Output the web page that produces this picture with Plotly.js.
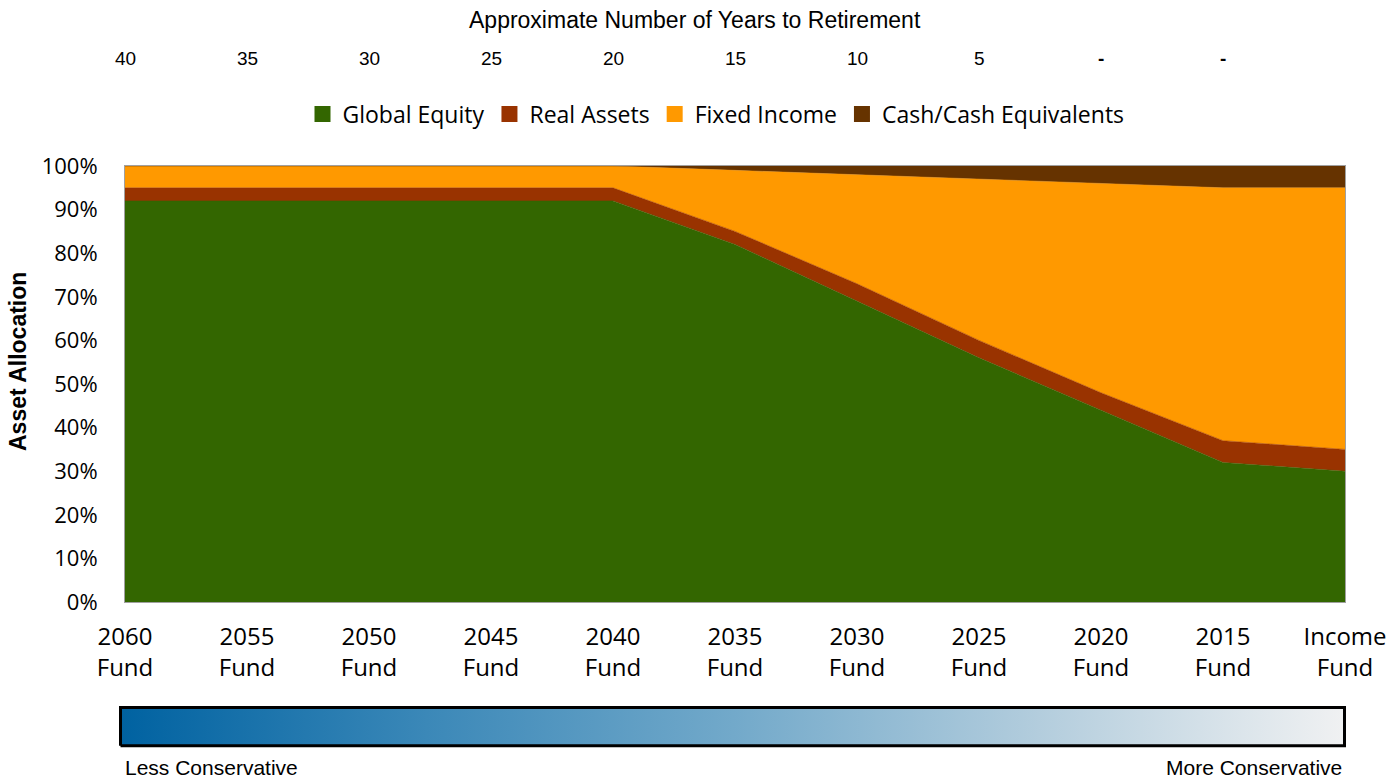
<!DOCTYPE html>
<html>
<head>
<meta charset="utf-8">
<script src="https://cdn.plot.ly/plotly-3.0.1.min.js"></script>
<style>html,body{margin:0;padding:0;background:#fff;}#chart{width:1396px;height:781px;}</style>
</head>
<body>
<div id="chart"></div>
<script>
// ---- data ----
var funds = ['2060<br>Fund','2055<br>Fund','2050<br>Fund','2045<br>Fund','2040<br>Fund','2035<br>Fund','2030<br>Fund','2025<br>Fund','2020<br>Fund','2015<br>Fund','Income<br>Fund'];
var globalEquity = [92,92,92,92,92,82,69,56,44,32,30];
var realAssets   = [3,3,3,3,3,3,4,4,4,5,5];
var fixedIncome  = [5,5,5,5,5,14,25,37,48,58,60];
var cashEquiv    = [0,0,0,0,0,1,2,3,4,5,5];
var yearsToRetirement = ['40','35','30','25','20','15','10','5','<b>-</b>','<b>-</b>'];
var seriesNames = ['Global Equity','Real Assets','Fixed Income','Cash/Cash Equivalents'];
var seriesColors = ['#336600','#993300','#FF9900','#663300'];
var gradientStops = [[0,'#0062a1'],[0.25,'#3b88b8'],[0.5,'#72a9ca'],[0.75,'#b3cddd'],[1,'#f0f1f2']];

var seriesValues = [globalEquity, realAssets, fixedIncome, cashEquiv];
var traces = [];
seriesValues.forEach(function(vals, i){
  traces.push({
    type:'scatter', mode:'lines', x:funds, y:vals, stackgroup:'alloc',
    name:seriesNames[i], showlegend:false, hoverinfo:'skip',
    line:{color:seriesColors[i], width:0.5}, fillcolor:seriesColors[i]
  });
});
// legend entries (square markers)
seriesNames.forEach(function(n, i){
  traces.push({type:'scatter', mode:'markers', x:[null], y:[null], name:n,
    marker:{symbol:'square', size:16, color:seriesColors[i]}, showlegend:true});
});
// gradient bar
traces.push({type:'scatter', mode:'lines', xaxis:'x2', yaxis:'y2',
  x:[0,1,1,0,0], y:[0,0,1,1,0], fill:'toself', hoverinfo:'skip', showlegend:false,
  fillgradient:{type:'horizontal', colorscale:gradientStops},
  line:{color:'#000', width:3}});

var W = 1396, H = 781, ml = 100, mr = 48, mt = 166, mb = 30;
var pw = W - ml - mr, ph = H - mt - mb;
function px(x){ return (x - ml) / pw; }
function py(y){ return (H - mb - y) / ph; }

var annotations = [
  {text:'Approximate Number of Years to Retirement', xref:'paper', yref:'paper', x:px(695), y:py(20),
   xanchor:'center', yanchor:'middle', showarrow:false, font:{family:'Liberation Sans, Arial', size:23, color:'#000'}},
  {text:'<b>Asset Allocation</b>', xref:'paper', yref:'paper', x:px(18), y:py(362), textangle:-90,
   xanchor:'center', yanchor:'middle', showarrow:false, font:{family:'Liberation Sans, Arial', size:23, color:'#000'}},
  {text:'Less Conservative', xref:'paper', yref:'paper', x:px(123), y:py(767),
   xanchor:'left', yanchor:'middle', showarrow:false, font:{family:'Liberation Sans, Arial', size:21, color:'#000'}},
  {text:'More Conservative', xref:'paper', yref:'paper', x:px(1344), y:py(767),
   xanchor:'right', yanchor:'middle', showarrow:false, font:{family:'Liberation Sans, Arial', size:21, color:'#000'}}
];
yearsToRetirement.forEach(function(t, i){
  annotations.push({text:t, xref:'x', yref:'paper', x:funds[i], y:py(59), xanchor:'center', yanchor:'middle',
    showarrow:false, font:{family:'Liberation Sans, Arial', size:19, color:'#000'}});
});

var layout = {
  width:W, height:H, margin:{l:ml, r:mr, t:mt, b:mb},
  paper_bgcolor:'#fff', plot_bgcolor:'#fff', showlegend:true,
  font:{family:'Open Sans', color:'#000'},
  xaxis:{domain:[px(125), px(1345)], type:'category', range:[0,10], showgrid:false, zeroline:false,
    showline:true, linecolor:'#a0a0a0', linewidth:1, mirror:true,
    ticks:'outside', ticklen:13, tickcolor:'rgba(0,0,0,0)', tickfont:{family:'Open Sans', size:24, color:'#000'}},
  yaxis:{domain:[py(602), 1], range:[0,100], dtick:10, ticksuffix:'%', showgrid:false, zeroline:false,
    showline:true, linecolor:'#a0a0a0', linewidth:1, mirror:true,
    ticks:'outside', ticklen:22, tickcolor:'rgba(0,0,0,0)', tickfont:{family:'Open Sans', size:22, color:'#000'}},
  xaxis2:{domain:[px(117), 1], range:[-0.00286, 1.00286], visible:false, fixedrange:true},
  yaxis2:{domain:[py(750), py(703)], range:[-0.11, 1.117], visible:false, fixedrange:true},
  legend:{orientation:'h', x:px(716), xanchor:'center', y:py(114), yanchor:'middle',
    font:{family:'Open Sans', size:23, color:'#000'}, traceorder:'normal', itemwidth:30, bgcolor:'rgba(0,0,0,0)'},
  annotations:annotations
};
Plotly.newPlot('chart', traces, layout, {displayModeBar:false, staticPlot:true});
</script>
</body>
</html>
